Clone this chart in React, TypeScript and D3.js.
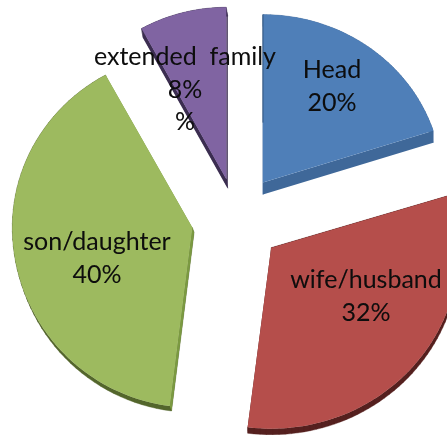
import React from "react";
import * as d3 from "d3";

const categories = ["Head", "wife/husband", "son/daughter", "extended  family"];
const shares = [20, 32, 40, 8];
const percentLabels = [["20%"], ["32%"], ["40%"], ["8%", "%"]];
const topColors = ["#4f7fb8", "#b54e4b", "#9dba5f", "#8064a2"];
const wallColors = ["#3f6899", "#55201f", "#53662c", "#3b2d50"];
const sideColors = ["#3f6899", "#55201f", "#7b9a41", "#3b2d50"];

const W = 447, H = 435;
const cx = 236.5, cy = 219;
const rxs = [179, 188, 180, 176];
const ryUp = [168, 170, 174, 172];
const ryDown = [180, 181, 180, 180];
const explode = [45, 45, 45, 41];
const extrude: [number, number][] = [[0, 12], [0, 6], [1.8, 5], [1.5, 9]];
const labelPos: [number, number][] = [[332, 78], [366, 288], [97, 250], [185, 65]];
const lineH = 32.5;

const pie = d3.pie<number>().sort(null).value(d => d)(shares);

function App() {
  const slices = pie.map((p, i) => {
    const mid = (p.startAngle + p.endAngle) / 2;
    const ax = cx + explode[i] * Math.sin(mid);
    const ay = cy - explode[i] * Math.cos(mid);
    const angles = d3.range(0, 61).map(k => p.startAngle + (p.endAngle - p.startAngle) * k / 60);
    const arcPts: [number, number][] = angles.map(a => {
      const c = Math.cos(a);
      return [ax + rxs[i] * Math.sin(a), ay - (c > 0 ? ryUp[i] : ryDown[i]) * c];
    });
    const outline: [number, number][] = [[ax, ay], ...arcPts];
    const [dx, dy] = extrude[i];
    const line = d3.line();
    const top = line(outline) + "Z";
    const wall = d3.range(1, outline.length).map(k => {
      const a = outline[k - 1], b = outline[k];
      return line([a, b, [b[0] + dx, b[1] + dy], [a[0] + dx, a[1] + dy]]) + "Z";
    }).join("");
    const radial = [[outline[0], outline[1]], [outline[0], outline[outline.length - 1]]].map(([a, b]) =>
      line([a, b, [b[0] + dx, b[1] + dy], [a[0] + dx, a[1] + dy]]) + "Z").join("");
    return { i, top, wall, radial, ax, ay, first: outline[1] };
  });
  return (
    <svg width={W} height={H} style={{ position: "absolute", left: 0, top: 0 }}>
      <defs>
        <filter id="soft"><feGaussianBlur stdDeviation="0.35" /></filter>
      </defs>
      {slices.map(s => (
        <g key={s.i}>
          <path d={s.wall} fill={wallColors[s.i]} stroke={wallColors[s.i]} strokeWidth={0.4} />
          <path d={s.radial} fill={sideColors[s.i]} stroke="none" />
          <path d={s.top} fill={topColors[s.i]} />
          {s.i === 0 && (
            <line x1={s.ax} y1={s.ay - 60} x2={s.first[0]} y2={s.first[1]} stroke="#2a4a70" strokeWidth={0.8} />
          )}
        </g>
      ))}
      <g fontFamily="Lato, Carlito, sans-serif" fontSize={25} fill="#0a0a0a" textAnchor="middle" filter="url(#soft)">
        {categories.map((c, i) => (
          <text key={c} x={labelPos[i][0]} y={labelPos[i][1]} style={{ whiteSpace: "pre" }}>
            <tspan x={labelPos[i][0]}>{c}</tspan>
            {percentLabels[i].map((t, k) => (
              <tspan key={k} x={labelPos[i][0]} y={labelPos[i][1] + lineH * (k + 1)}>{t}</tspan>
            ))}
          </text>
        ))}
      </g>
    </svg>
  );
}

export default App;
